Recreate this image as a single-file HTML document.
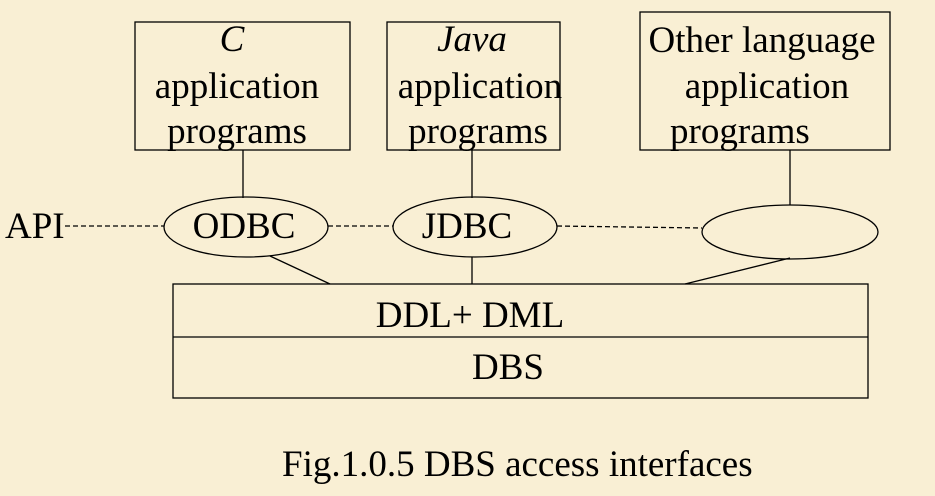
<!DOCTYPE html>
<html><head><meta charset="utf-8"><style>
html,body{margin:0;padding:0;background:#F9EFD4;}
svg{display:block;}
text{font-family:"Liberation Serif",serif;font-size:37px;fill:#000;}
</style></head><body>
<svg width="935" height="496" viewBox="0 0 935 496">
<rect x="0" y="0" width="935" height="496" fill="#F9EFD4"/>
<g fill="none" stroke="#000" stroke-width="1.3">
<rect x="135" y="22" width="215" height="128"/>
<rect x="387" y="22" width="173" height="128"/>
<rect x="640" y="12" width="250" height="138"/>
<line x1="243" y1="150" x2="243" y2="198"/>
<line x1="472" y1="150" x2="472" y2="198"/>
<line x1="790" y1="150" x2="790" y2="205"/>
<ellipse cx="246" cy="227" rx="82" ry="30"/>
<ellipse cx="475" cy="227" rx="82" ry="30"/>
<ellipse cx="790" cy="232" rx="88" ry="27"/>
<g stroke-dasharray="5,3">
<line x1="65" y1="226" x2="164" y2="226"/>
<line x1="328" y1="226" x2="393" y2="226"/>
<line x1="557" y1="226" x2="702" y2="228"/>
</g>
<line x1="270" y1="256" x2="330" y2="284"/>
<line x1="472" y1="257" x2="472" y2="284"/>
<line x1="790" y1="258" x2="685" y2="284"/>
<rect x="173" y="284" width="695" height="114"/>
<line x1="173" y1="337" x2="868" y2="337"/>
</g>
<text x="232" y="51" text-anchor="middle" font-style="italic">C</text>
<text x="237" y="98" text-anchor="middle">application</text>
<text x="237" y="143" text-anchor="middle">programs</text>
<text x="472" y="51" text-anchor="middle" font-style="italic">Java</text>
<text x="480" y="98" text-anchor="middle">application</text>
<text x="478" y="143" text-anchor="middle">programs</text>
<text x="762" y="52" text-anchor="middle">Other language</text>
<text x="767" y="98" text-anchor="middle">application</text>
<text x="670" y="143">programs</text>
<text x="5" y="238">API</text>
<text x="244" y="238" text-anchor="middle">ODBC</text>
<text x="467" y="238" text-anchor="middle">JDBC</text>
<text x="470" y="327" text-anchor="middle">DDL+ DML</text>
<text x="508" y="379" text-anchor="middle">DBS</text>
<text x="282" y="476">Fig.1.0.5 DBS access interfaces</text>
</svg>
</body></html>
